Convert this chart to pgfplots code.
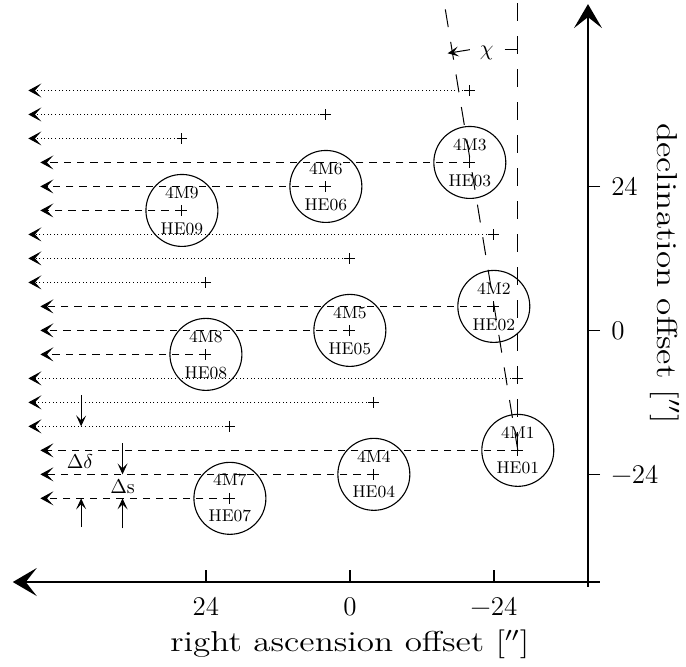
\documentclass[border=0pt]{standalone}
\usepackage{fontspec}
\usepackage{pgfplots}
\pgfplotsset{compat=1.18}
\usetikzlibrary{arrows.meta}
\tikzset{
  rowtip/.style={-{Stealth[length=6.5pt,width=7pt,inset=3.2pt,line width=0.5pt]}},
  dotrow/.style={line width=0.5pt, dash pattern=on 0.5pt off 1.3pt, rowtip},
  dashrow/.style={line width=0.5pt, dash pattern=on 3.65pt off 3pt, rowtip},
  darr/.style={line width=0.5pt, -{Stealth[length=5.5pt,width=5pt,inset=2.5pt]}},
  lbl/.style={font=\fontsize{8.5}{10}\selectfont, inner sep=0pt},
}
\begin{document}
\begin{tikzpicture}
\begin{axis}[
  x=3pt, y=3pt, x dir=reverse,
  xmin=-39.7, xmax=56.2, ymin=-41.95, ymax=54.4,
  enlargelimits=false, clip=false,
  axis x line=bottom, axis y line=right,
  axis line style={line width=1pt, -{Stealth[length=12pt,width=14pt,inset=5.5pt]}},
  xtick={-24,0,24}, ytick={-24,0,24},
  xticklabels={−24,0,24}, yticklabels={−24,0,24},
  xtick align=inside, ytick align=outside,
  major tick length=6.1pt,
  tick style={line width=0.7pt, black},
  xticklabel style={font=\fontsize{13.5}{15}\selectfont, yshift=-4pt},
  yticklabel style={font=\fontsize{13.5}{15}\selectfont, anchor=west, xshift=2pt},
  every axis x label/.style={at={(axis cs:0,-53.6)}, anchor=base, xscale=1.22, font=\fontsize{14.4}{17}\selectfont},
  every axis y label/.style={at={(axis cs:-51.33,9.5)}, anchor=base, rotate=-90, xscale=1.22, font=\fontsize{14.4}{17}\selectfont},
  xlabel={right ascension offset [$''$]},
  ylabel={declination offset [$''$]},
]
% bounding frame (686 x 666 px)
\path (axis cs:58.33,55) rectangle (axis cs:-56,-56);

% small overhangs of the axis lines past their crossing
\addplot[line width=1pt] coordinates {(-39.7,-41.95) (-41.7,-41.95)};
\addplot[line width=1pt] coordinates {(-39.7,-41.95) (-39.7,-42.8)};

% dotted rows (pointing positions)
\addplot[dotrow] coordinates {(-20,40) (53.6,40)};
\addplot[dotrow] coordinates {(4,36) (53.6,36)};
\addplot[dotrow] coordinates {(28,32) (53.6,32)};
\addplot[dotrow] coordinates {(-24,16) (53.6,16)};
\addplot[dotrow] coordinates {(0,12) (53.6,12)};
\addplot[dotrow] coordinates {(24,8) (53.6,8)};
\addplot[dotrow] coordinates {(-28,-8) (53.6,-8)};
\addplot[dotrow] coordinates {(-4,-12) (53.6,-12)};
\addplot[dotrow] coordinates {(20,-16) (53.6,-16)};
% dashed rows (beam centres)
\addplot[dashrow] coordinates {(-20,28) (51.6,28)};
\addplot[dashrow] coordinates {(4,24) (51.6,24)};
\addplot[dashrow] coordinates {(28,20) (51.6,20)};
\addplot[dashrow] coordinates {(-24,4) (51.6,4)};
\addplot[dashrow] coordinates {(0,0) (51.6,0)};
\addplot[dashrow] coordinates {(24,-4) (51.6,-4)};
\addplot[dashrow] coordinates {(-28,-20) (51.6,-20)};
\addplot[dashrow] coordinates {(-4,-24) (51.6,-24)};
\addplot[dashrow] coordinates {(20,-28) (51.6,-28)};

% crosses
\addplot[only marks, mark=+, mark size=2.7pt, mark options={line width=0.5pt}] coordinates {
 (-20,40) (4,36) (28,32) (-24,16) (0,12) (24,8) (-28,-8) (-4,-12) (20,-16)
 (-20,28) (4,24) (28,20) (-24,4) (0,0) (24,-4) (-28,-20) (-4,-24) (20,-28)};

% beams
\addplot[only marks, mark=o, mark size=18pt, mark options={line width=0.55pt}] coordinates {
 (-28,-20) (-24,4) (-20,28) (-4,-24) (0,0) (4,24) (20,-28) (24,-4) (28,20)};

% reference directions
\addplot[line width=0.5pt, dash pattern=on 9pt off 7.5pt, dash phase=15pt] coordinates {(-28,55) (-28,-20)};
\addplot[line width=0.5pt, dash pattern=on 9pt off 7.5pt, dash phase=12pt] coordinates {(-15.67,55) (-28,-20)};
\addplot[line width=0.5pt] coordinates {(-25.8,46.8) (-28,46.8)};
\addplot[darr] coordinates {(-20,46.8) (-16.3,46.2)};

% spacing arrows
\addplot[darr] coordinates {(44.8,-10.8) (44.8,-16)};
\addplot[darr] coordinates {(44.8,-32.8) (44.8,-28)};
\addplot[darr] coordinates {(37.9,-18.8) (37.9,-24)};
\addplot[darr] coordinates {(37.9,-33) (37.9,-28)};

% labels
\node[font=\fontsize{11}{12}\selectfont, inner sep=0pt] at (axis cs:-22.8,46.3) {$\chi$};
\node[font=\fontsize{10}{12}\selectfont, inner sep=0pt] at (axis cs:45,-21.9) {$\Delta\delta$};
\node[font=\fontsize{10}{12}\selectfont, inner sep=0pt] at (axis cs:37.9,-26.1) {$\Delta$s};

\node[lbl] at (axis cs:-28,-17) {4M1}; \node[lbl] at (axis cs:-28,-23) {HE01};
\node[lbl] at (axis cs:-24,7) {4M2};   \node[lbl] at (axis cs:-24,1) {HE02};
\node[lbl] at (axis cs:-20,31) {4M3};  \node[lbl] at (axis cs:-20,25) {HE03};
\node[lbl] at (axis cs:-4,-21) {4M4};  \node[lbl] at (axis cs:-4,-27) {HE04};
\node[lbl] at (axis cs:0,3) {4M5};     \node[lbl] at (axis cs:0,-3) {HE05};
\node[lbl] at (axis cs:4,27) {4M6};    \node[lbl] at (axis cs:4,21) {HE06};
\node[lbl] at (axis cs:20,-25) {4M7};  \node[lbl] at (axis cs:20,-31) {HE07};
\node[lbl] at (axis cs:24,-1) {4M8};   \node[lbl] at (axis cs:24,-7) {HE08};
\node[lbl] at (axis cs:28,23) {4M9};   \node[lbl] at (axis cs:28,17) {HE09};
\end{axis}
\end{tikzpicture}
\end{document}
